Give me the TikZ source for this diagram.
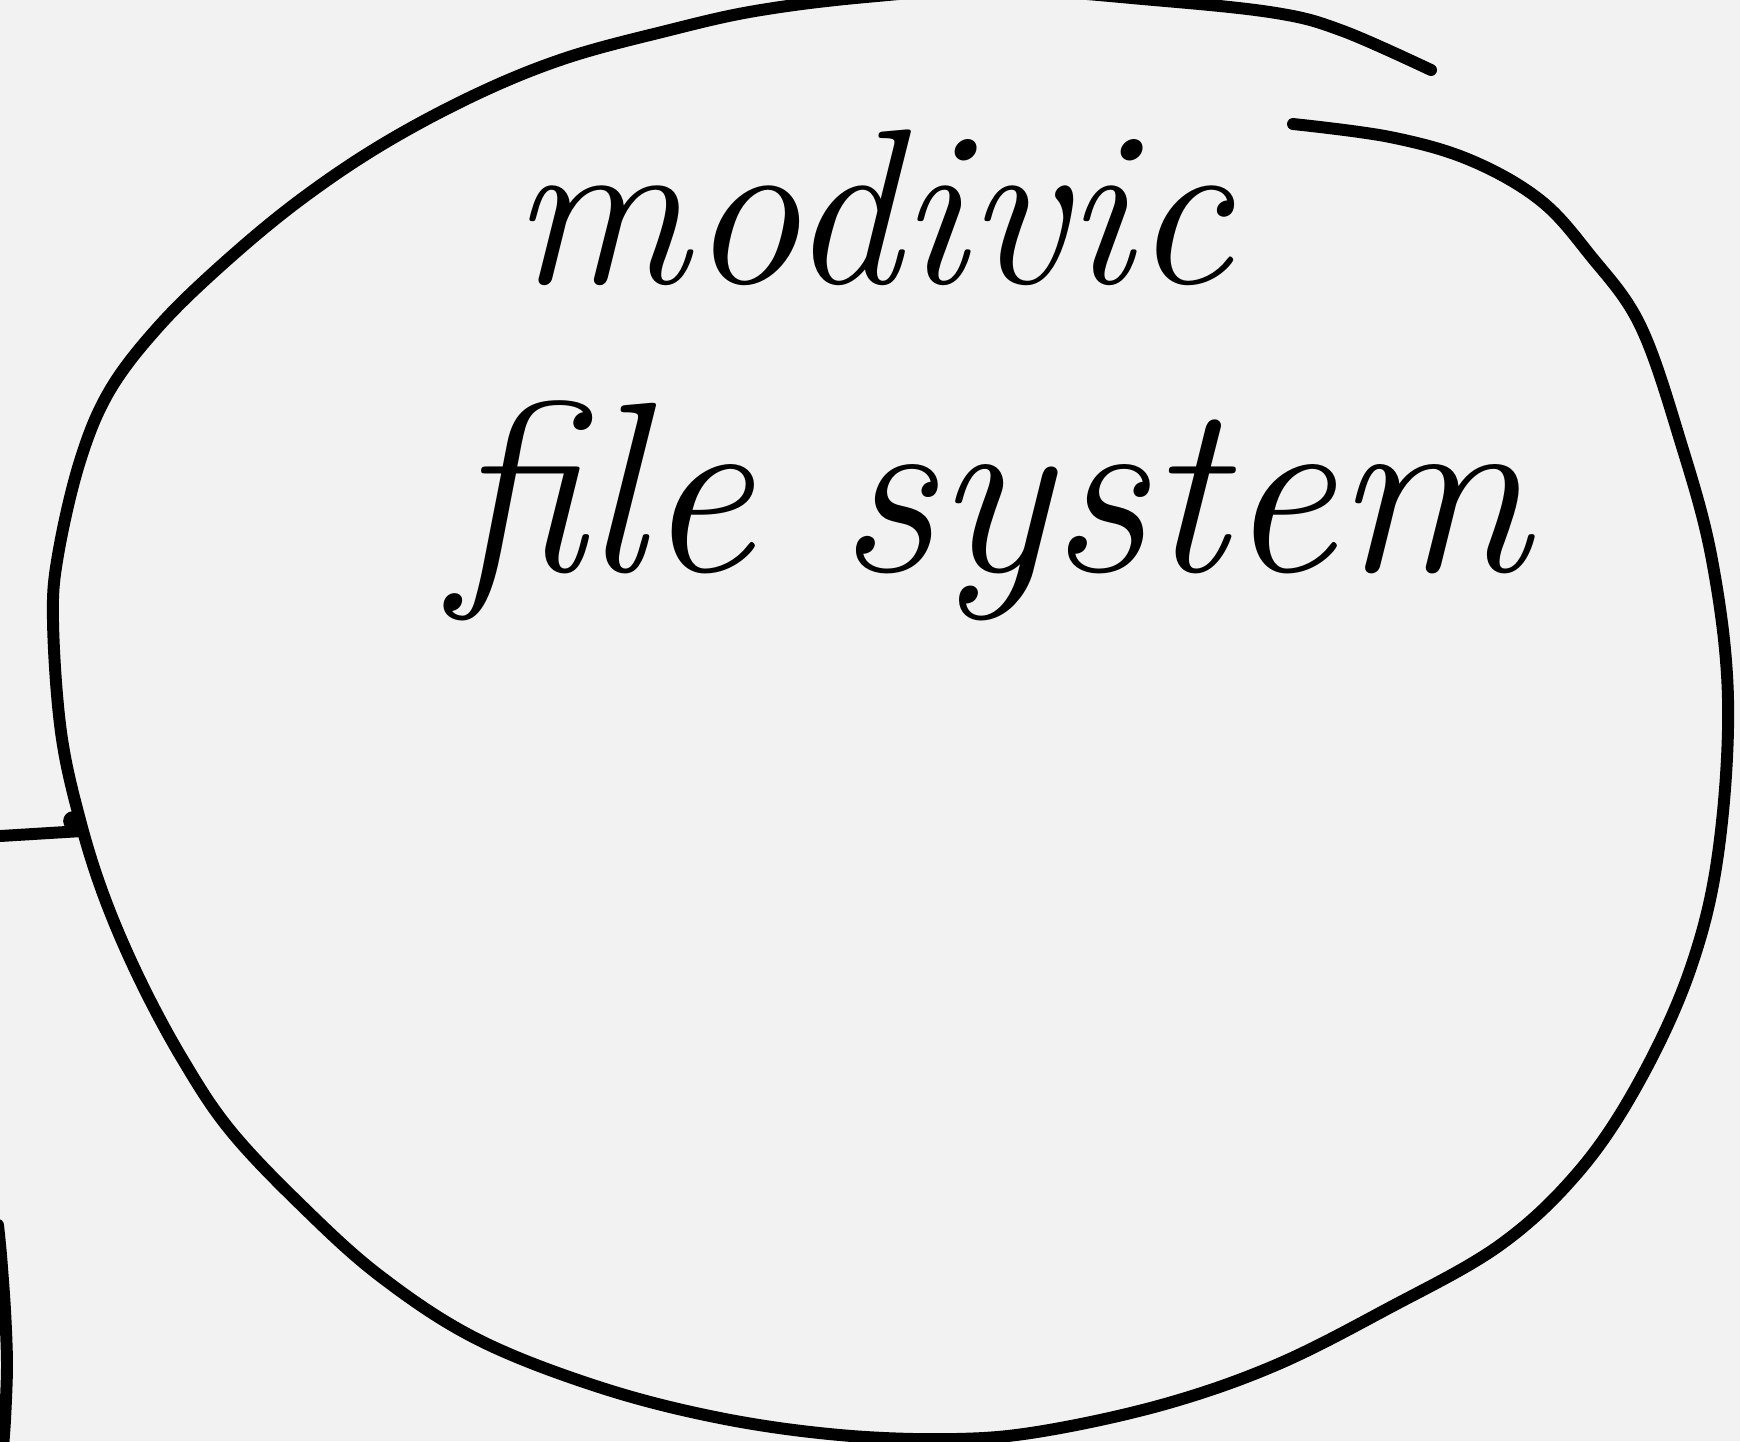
\documentclass[tikz,border=0pt]{standalone}
\usepackage{tikz}
\definecolor{paper}{HTML}{F2F2F2}

\begin{document}
\begin{tikzpicture}[x=0.01cm, y=-0.01cm, line cap=round, line join=round,
    ink/.style={line width=3.4pt, black},
    word/.style={inner sep=0pt, font=\fontsize{63}{70}\selectfont\itshape}]
  % ===== page =====
  \useasboundingbox (0,0) rectangle (1740,1441);
  \fill[paper] (0,0) rectangle (1740,1441);
  % ===== open hand-drawn ring (gap at top right) =====
  \draw[ink] plot[smooth, tension=0.6] coordinates {
    (1293,124) (1390,137) (1470,160) (1540,200) (1590,255) (1640,325)
    (1680,440) (1712,560) (1728,700) (1718,854) (1690,970) (1640,1080)
    (1580,1170) (1500,1245) (1387,1309) (1276,1365) (1165,1404) (1043,1431)
    (954,1439) (840,1435) (720,1418) (599,1387) (477,1339) (380,1276)
    (300,1204) (230,1130) (183,1060) (140,980) (105,899) (80,820)
    (61,732) (53,621) (58,555) (80,461) (110,390) (160,325) (225,262)
    (300,200) (383,144) (477,94) (566,58) (666,31) (755,11) (866,-3)
    (999,-11) (1154,0) (1276,13) (1343,31) (1431,70)};
  % ===== labels =====
  \node[word, anchor=base] (title) at (872,283) {modivic};
  \node[word, anchor=base, font=\fontsize{69}{75}\selectfont\itshape] (fs) at (990,571) {file system};
  % lead-in stroke on the left
  \coordinate (lead) at (0,836);
  \coordinate (rim) at (82,831);
  \draw[ink] (lead) -- (rim);
  \fill (73,821) circle[radius=2.8pt];
  % edge of a neighbouring shape
  \draw[ink] plot[smooth] coordinates {(-2,1225) (1,1255) (5,1310) (7,1365) (5,1420) (2,1460)};
\end{tikzpicture}
\end{document}
